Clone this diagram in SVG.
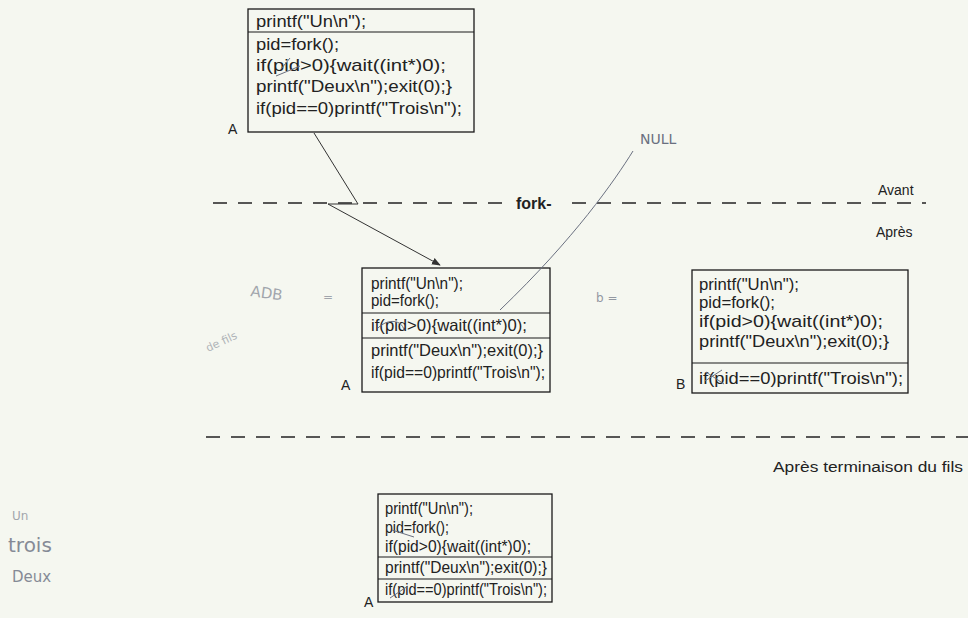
<svg xmlns="http://www.w3.org/2000/svg" width="968" height="618" viewBox="0 0 968 618">
<defs>
<style>
.bg{fill:#f5f7f0}
.box{fill:none;stroke:#1a1a1a;stroke-width:1.3}
.div{stroke:#1a1a1a;stroke-width:1.1}
.code{font-family:"Liberation Sans",Arial,sans-serif;fill:#222}
.big{font-size:17px}
.small{font-size:16.5px}
.lbl{font-family:"Liberation Sans",Arial,sans-serif;font-size:14px;fill:#222}
.dash{stroke:#222;stroke-width:1.4;stroke-dasharray:14 11;fill:none}
.conn{stroke:#333;stroke-width:1;fill:none}
.pen{stroke:#6a7080;stroke-width:1;fill:none}
.hand{font-family:"DejaVu Sans",sans-serif;fill:#6a7080}
</style>
<marker id="ah" viewBox="0 0 10 10" refX="9" refY="5" markerWidth="9" markerHeight="9" orient="auto">
<path d="M0,1 L10,5 L0,9 z" fill="#333"/>
</marker>
</defs>
<rect class="bg" x="0" y="0" width="968" height="618"/>

<g id="separators">
<line class="dash" x1="213" y1="203" x2="508" y2="203"/>
<text x="516" y="209" font-family="Liberation Sans,Arial,sans-serif" font-size="16" font-weight="bold" fill="#222">fork-</text>
<line class="dash" x1="572" y1="203" x2="926" y2="203"/>
<text class="lbl" x="878" y="195">Avant</text>
<text class="lbl" x="876" y="237">Après</text>
<line class="dash" x1="206" y1="437" x2="968" y2="437"/>
<text class="lbl" x="773" y="472" textLength="190" lengthAdjust="spacingAndGlyphs">Après terminaison du fils</text>
</g>

<g id="node-A-avant">
<rect class="box" x="248" y="9" width="226" height="123"/>
<line class="div" x1="248" y1="32" x2="474" y2="32"/>
<text class="code big" x="256" y="27" textLength="110" lengthAdjust="spacingAndGlyphs">printf("Un\n");</text>
<text class="code big" x="256" y="50" textLength="83" lengthAdjust="spacingAndGlyphs">pid=fork();</text>
<text class="code big" x="256" y="71" textLength="190" lengthAdjust="spacingAndGlyphs">if(pid&gt;0){wait((int*)0);</text>
<text class="code big" x="256" y="92" textLength="196" lengthAdjust="spacingAndGlyphs">printf("Deux\n");exit(0);}</text>
<text class="code big" x="256" y="114" textLength="206" lengthAdjust="spacingAndGlyphs">if(pid==0)printf("Trois\n");</text>
<text class="lbl" x="228" y="134">A</text>
</g>

<g id="node-A-apres">
<rect class="box" x="362" y="268" width="188" height="124"/>
<line class="div" x1="362" y1="313" x2="550" y2="313"/>
<line class="div" x1="362" y1="338" x2="550" y2="338"/>
<text class="code small" x="371" y="289" textLength="92" lengthAdjust="spacingAndGlyphs">printf("Un\n");</text>
<text class="code small" x="371" y="306" textLength="68" lengthAdjust="spacingAndGlyphs">pid=fork();</text>
<text class="code small" x="371" y="331" textLength="156" lengthAdjust="spacingAndGlyphs">if(pid&gt;0){wait((int*)0);</text>
<text class="code small" x="371" y="356" textLength="172" lengthAdjust="spacingAndGlyphs">printf("Deux\n");exit(0);}</text>
<text class="code small" x="371" y="378" textLength="174" lengthAdjust="spacingAndGlyphs">if(pid==0)printf("Trois\n");</text>
<text class="lbl" x="341" y="390">A</text>
</g>

<g id="node-B-apres">
<rect class="box" x="692" y="270" width="216" height="123"/>
<line class="div" x1="692" y1="363" x2="908" y2="363"/>
<text class="code big" x="699" y="290" textLength="100" lengthAdjust="spacingAndGlyphs">printf("Un\n");</text>
<text class="code big" x="699" y="308" textLength="76" lengthAdjust="spacingAndGlyphs">pid=fork();</text>
<text class="code big" x="699" y="327" textLength="184" lengthAdjust="spacingAndGlyphs">if(pid&gt;0){wait((int*)0);</text>
<text class="code big" x="699" y="347" textLength="190" lengthAdjust="spacingAndGlyphs">printf("Deux\n");exit(0);}</text>
<text class="code big" x="699" y="384" textLength="204" lengthAdjust="spacingAndGlyphs">if(pid==0)printf("Trois\n");</text>
<text class="lbl" x="676" y="389">B</text>
</g>

<g id="node-A-fin">
<rect class="box" x="378" y="494" width="174" height="108"/>
<line class="div" x1="378" y1="557" x2="552" y2="557"/>
<line class="div" x1="378" y1="579" x2="552" y2="579"/>
<text class="code small" x="385" y="514" textLength="88" lengthAdjust="spacingAndGlyphs">printf("Un\n");</text>
<text class="code small" x="385" y="533" textLength="64" lengthAdjust="spacingAndGlyphs">pid=fork();</text>
<text class="code small" x="385" y="552" textLength="146" lengthAdjust="spacingAndGlyphs">if(pid&gt;0){wait((int*)0);</text>
<text class="code small" x="385" y="573" textLength="162" lengthAdjust="spacingAndGlyphs">printf("Deux\n");exit(0);}</text>
<text class="code small" x="385" y="595" textLength="162" lengthAdjust="spacingAndGlyphs">if(pid==0)printf("Trois\n");</text>
<text class="lbl" x="364" y="607">A</text>
</g>

<g id="connectors">
<polyline class="conn" points="314,133 358,204 328,204 440,265" marker-end="url(#ah)"/>
<path class="pen" d="M633,151 C615,180 575,238 500,310"/>
</g>

<g id="annotations">
<text class="hand" x="640" y="144" font-size="14">NULL</text>
<text class="hand" x="12" y="520" font-size="12" opacity="0.6">Un</text>
<text class="hand" x="8" y="552" font-size="20" opacity="0.8">trois</text>
<text class="hand" x="12" y="582" font-size="15" opacity="0.8">Deux</text>
<text class="hand" x="250" y="296" font-size="15" opacity="0.6" transform="rotate(8 250 296)">ADB</text>
<text class="hand" x="208" y="352" font-size="11" opacity="0.5" transform="rotate(-25 208 352)">de fils</text>
<text class="hand" x="596" y="302" font-size="12" opacity="0.7">b =</text>
<text class="hand" x="323" y="301" font-size="12" opacity="0.6">=</text>
<path class="pen" d="M281,69 L290,58 M276,76 L300,66"/>
<path class="pen" d="M378,328 C388,318 402,320 404,330"/>
<path class="pen" d="M705,381 L722,370 M706,372 L724,384"/>
<path class="pen" d="M392,530 L414,537 M390,598 L408,586"/>
</g>
</svg>
